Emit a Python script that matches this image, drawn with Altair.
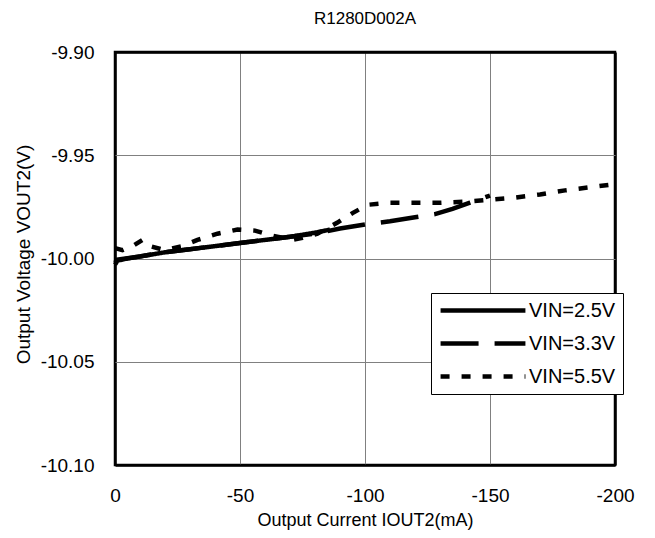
import altair as alt
import pandas as pd

i25 = [0, -1, -5, -10, -20, -30, -40, -50, -60, -70, -80, -86]
v25 = [-10.003, -10.001, -10.0, -9.999, -9.997, -9.9955, -9.994, -9.9925, -9.991, -9.9895, -9.9875, -9.986]

i33 = [0, -1, -10, -20, -30, -40, -50, -60, -70, -80, -90, -100, -110, -120, -128, -135, -142, -150]
v33 = [-10.002, -10.0005, -9.999, -9.997, -9.9955, -9.994, -9.9925, -9.991, -9.9895, -9.988,
       -9.9855, -9.9835, -9.982, -9.98, -9.9785, -9.976, -9.973, -9.9695]

i55 = [0, -3, -7, -11, -14, -20, -27, -33, -41, -49, -56, -63, -71, -75, -81, -89, -95, -101,
       -110, -120, -130, -140, -150, -160, -170, -180, -190, -200]
v55 = [-9.995, -9.996, -9.994, -9.991, -9.994, -9.996, -9.994, -9.991, -9.988, -9.986, -9.9865,
       -9.989, -9.991, -9.990, -9.988, -9.9826, -9.978, -9.974, -9.973, -9.973, -9.973, -9.9725,
       -9.9715, -9.9705, -9.969, -9.967, -9.9655, -9.964]

series = ["VIN=2.5V", "VIN=3.3V", "VIN=5.5V"]
x_ticks = [0, -50, -100, -150, -200]
y_ticks = [-10.10, -10.05, -10.00, -9.95, -9.90]

rows = []
for name, xs, ys in zip(series, [i25, i33, i55], [v25, v33, v55]):
    for k, (a, b) in enumerate(zip(xs, ys)):
        rows.append({"series": name, "I": a, "V": b, "order": k})
df = pd.DataFrame(rows)

FONT = "Liberation Sans"
FIX_MINUS = "replace(datum.label, '\u2212', '-')"

x_edge = "datum.value == 0 || datum.value == -200"
y_edge = "datum.value < -10.09 || datum.value > -9.91"

chart = alt.Chart(df).mark_line(strokeWidth=4.5, color="black", strokeCap="butt").encode(
    x=alt.X("I:Q",
            scale=alt.Scale(domain=[-200, 0], reverse=True, nice=False, zero=False),
            axis=alt.Axis(values=x_ticks, title="Output Current IOUT2(mA)", format="d",
                          labelExpr=FIX_MINUS,
                          grid=True,
                          gridColor={"condition": {"test": x_edge, "value": "black"}, "value": "#808080"},
                          gridWidth={"condition": {"test": x_edge, "value": 2.5}, "value": 1},
                          domain=False,
                          ticks=False, labelPadding=21, labelFontSize=19, labelColor="black",
                          labelFont=FONT, titleFont=FONT, titleFontSize=18,
                          titleFontWeight="normal", titleColor="black", titlePadding=6,
                          labelFlush=False)),
    y=alt.Y("V:Q",
            scale=alt.Scale(domain=[-10.10, -9.90], nice=False, zero=False),
            axis=alt.Axis(values=y_ticks, title="Output Voltage VOUT2(V)", format=".2f",
                          labelExpr=FIX_MINUS,
                          grid=True,
                          gridColor={"condition": {"test": y_edge, "value": "black"}, "value": "#808080"},
                          gridWidth={"condition": {"test": y_edge, "value": 2.5}, "value": 1},
                          domain=False,
                          ticks=False, labelPadding=21, labelFontSize=19, labelColor="black",
                          labelFont=FONT, titleFont=FONT, titleFontSize=19,
                          titleFontWeight="normal", titleColor="black",
                          titleX=-82, titleY=202, titleAngle=-90, titleBaseline="bottom",
                          titleAlign="center", labelFlush=False)),
    strokeDash=alt.StrokeDash("series:N",
                              scale=alt.Scale(domain=series, range=[[1, 0], [38, 16], [9, 12]]),
                              legend=alt.Legend(title=None, orient="none", legendX=316, legendY=241,
                                                symbolType="stroke", symbolSize=7200,
                                                symbolStrokeWidth=4.5, symbolStrokeColor="black",
                                                labelFontSize=20, labelFont=FONT,
                                                labelColor="black", labelOffset=1,
                                                strokeColor="black", fillColor="white",
                                                padding=7, rowPadding=12, clipHeight=21,
                                                cornerRadius=0)),
    order="order:Q",
).properties(
    width=500, height=413,
    background="white",
    title=alt.TitleParams("R1280D002A", font=FONT, fontSize=17, fontWeight="normal",
                          color="black", offset=15, anchor="middle"),
    autosize=alt.AutoSizeParams(type="none"),
    padding={"left": 107, "top": 44, "right": 32, "bottom": 74},
).configure_view(stroke="black", strokeWidth=2.5)

chart.save("out.html", embed_options={"renderer": "svg", "actions": False})
